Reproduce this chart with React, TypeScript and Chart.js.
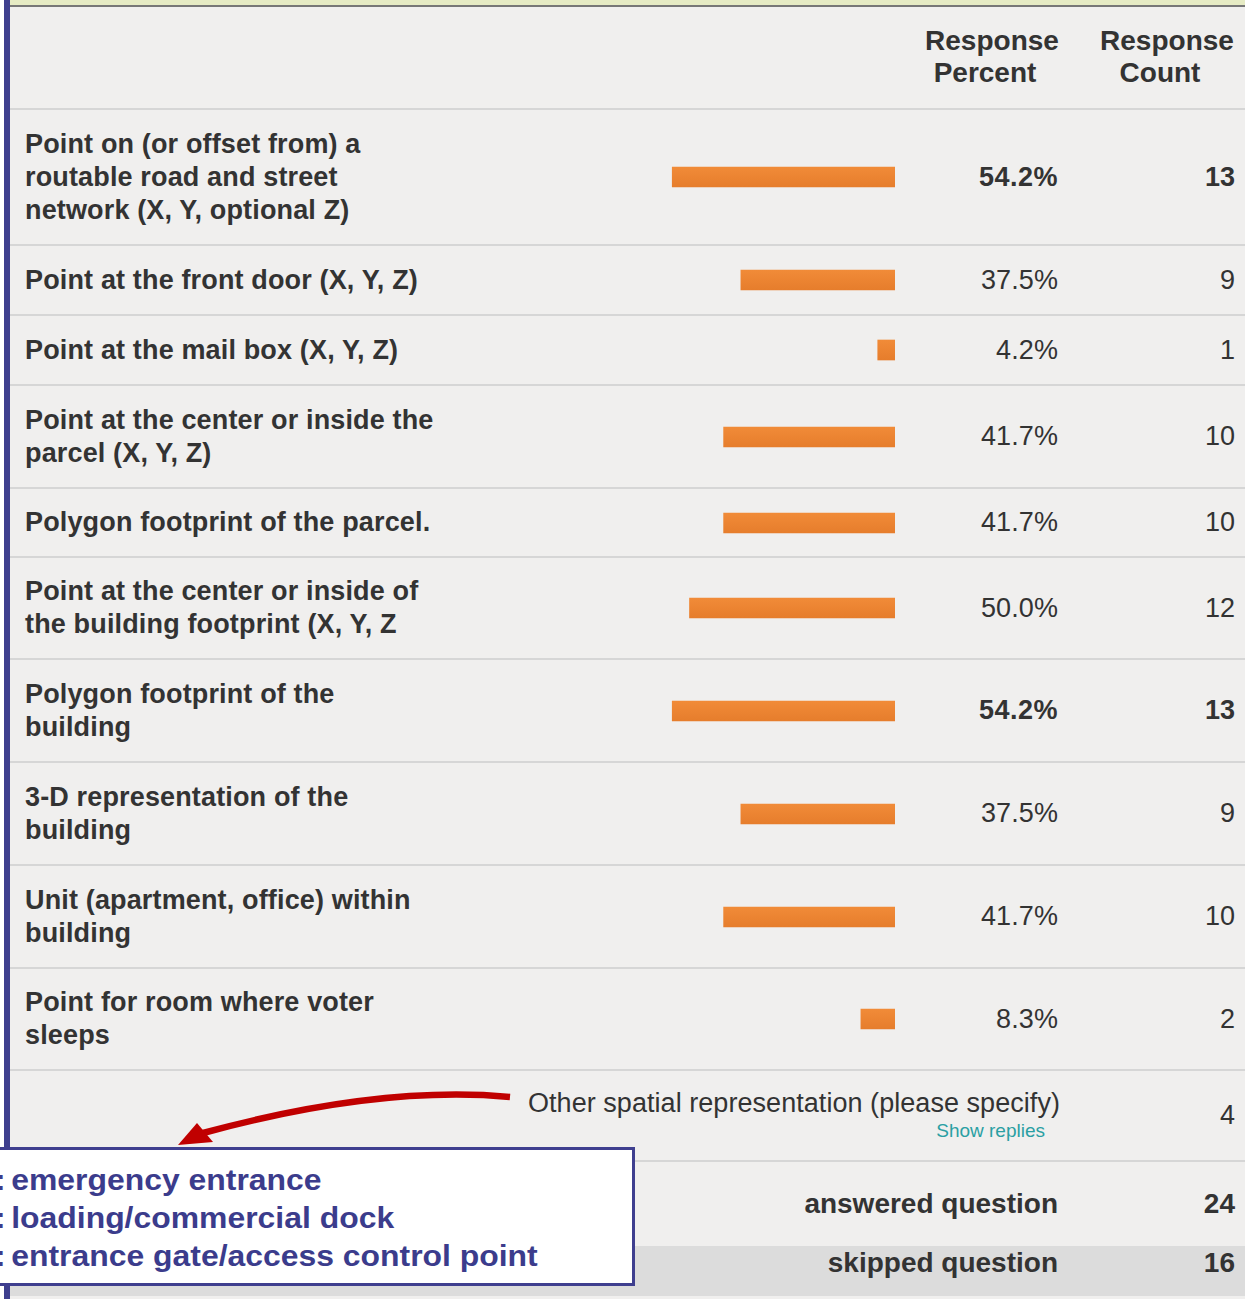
import React, { useEffect, useRef } from "react";
import { Chart, registerables } from "chart.js";

Chart.register(...registerables);

// ---------- data ----------
const categories: string[] = [
  "Point on (or offset from) a\nroutable road and street\nnetwork (X, Y, optional Z)",
  "Point at the front door (X, Y, Z)",
  "Point at the mail box (X, Y, Z)",
  "Point at the center or inside the\nparcel (X, Y, Z)",
  "Polygon footprint of the parcel.",
  "Point at the center or inside of\nthe building footprint (X, Y, Z",
  "Polygon footprint of the\nbuilding",
  "3-D representation of the\nbuilding",
  "Unit (apartment, office) within\nbuilding",
  "Point for room where voter\nsleeps",
];
const responsePercent: number[] = [54.2, 37.5, 4.2, 41.7, 41.7, 50.0, 54.2, 37.5, 41.7, 8.3];
const responseCount: number[] = [13, 9, 1, 10, 10, 12, 13, 9, 10, 2];
const headerLabels: string[][] = [["Response", "Percent"], ["Response", "Count"]];
const otherLabel = "Other spatial representation (please specify)";
const otherLinkLabel = "Show replies";
const otherCount = 4;
const summaryLabels: string[] = ["answered question", "skipped question"];
const summaryValues: number[] = [24, 16];
const calloutLines: string[] = ["emergency entrance", "loading/commercial dock", "entrance gate/access control point"];

// ---------- layout (not data) ----------
const rowHeights: number[] = [136, 70, 70, 103, 69, 102, 103, 103, 103, 102];
const headerCenters: number[][] = [[992, 985], [1167, 1160]];
const FONT = '"Liberation Sans", Arial, Helvetica, sans-serif';
const TEXT = "#333333";
const SEP = "#d6d6d6";
const BAR_W = 411;
const BAR_RIGHT = 895;

function BarCell({ value }: { value: number }) {
  const ref = useRef<HTMLCanvasElement>(null);
  useEffect(() => {
    if (!ref.current) return;
    const chart = new Chart(ref.current, {
      type: "bar",
      data: {
        labels: [""],
        datasets: [
          {
            data: [value],
            backgroundColor: (ctx: any) => {
              const area = ctx.chart.chartArea;
              if (!area) return "#ee8533";
              const mid = (area.top + area.bottom) / 2;
              const g = ctx.chart.ctx.createLinearGradient(0, mid - 10, 0, mid + 10);
              g.addColorStop(0, "#f18b38");
              g.addColorStop(1, "#e67d2c");
              return g;
            },
            borderWidth: 0,
            barThickness: 20,
          },
        ],
      },
      options: {
        indexAxis: "y",
        animation: false,
        responsive: false,
        maintainAspectRatio: false,
        layout: { padding: 0 },
        plugins: { legend: { display: false }, tooltip: { enabled: false } },
        scales: {
          x: { min: 0, max: 100, reverse: true, display: false },
          y: { display: false },
        },
      },
    });
    return () => chart.destroy();
  }, [value]);
  return (
    <canvas
      ref={ref}
      width={BAR_W}
      height={40}
      style={{
        position: "absolute",
        left: BAR_RIGHT - BAR_W,
        top: "50%",
        marginTop: -20,
        width: BAR_W,
        height: 40,
      }}
    />
  );
}

export default function App() {
  const maxPct = Math.max(...responsePercent);
  let y = 108;
  const rows = categories.map((label, i) => {
    const top = y;
    const h = rowHeights[i];
    y += h;
    const bold = responsePercent[i] === maxPct;
    return (
      <div
        key={i}
        style={{
          position: "absolute",
          left: 0,
          top,
          width: 1245,
          height: h,
          borderTop: `2px solid ${SEP}`,
          boxSizing: "border-box",
        }}
      >
        <div
          style={{
            position: "absolute",
            left: 25,
            top: 0,
            bottom: 0,
            display: "flex",
            alignItems: "center",
            whiteSpace: "pre-line",
            fontWeight: "bold",
            fontSize: 27,
            letterSpacing: "0.15px",
            lineHeight: "33px",
            color: TEXT,
          }}
        >
          {label}
        </div>
        <BarCell value={responsePercent[i]} />
        <div
          style={{
            position: "absolute",
            right: 1245 - 1058,
            top: 0,
            bottom: 0,
            display: "flex",
            alignItems: "center",
            fontSize: 27,
            letterSpacing: bold ? "0.5px" : "0.1px",
            fontWeight: bold ? "bold" : "normal",
            color: TEXT,
          }}
        >
          {responsePercent[i].toFixed(1)}%
        </div>
        <div
          style={{
            position: "absolute",
            right: 1245 - 1235,
            top: 0,
            bottom: 0,
            display: "flex",
            alignItems: "center",
            fontSize: 27,
            fontWeight: bold ? "bold" : "normal",
            color: TEXT,
          }}
        >
          {responseCount[i]}
        </div>
      </div>
    );
  });
  const otherTop = y;

  return (
    <div
      style={{
        position: "absolute",
        left: 0,
        top: 0,
        width: 1245,
        height: 1299,
        overflow: "hidden",
        background: "#f0efee",
        fontFamily: FONT,
        color: TEXT,
      }}
    >
      {/* top band */}
      <div style={{ position: "absolute", left: 0, top: 0, width: 1245, height: 5, background: "#e6ebc4" }} />
      <div style={{ position: "absolute", left: 0, top: 5, width: 1245, height: 2, background: "#777777" }} />

      {/* header */}
      {headerLabels.map((lines, i) =>
        lines.map((t, j) => (
          <div
            key={`${i}-${j}`}
            style={{
              position: "absolute",
              top: 25 + j * 32,
              left: headerCenters[i][j] - 100,
              width: 200,
              textAlign: "center",
              fontWeight: "bold",
              fontSize: 28,
              lineHeight: "32px",
            }}
          >
            {t}
          </div>
        ))
      )}

      {rows}

      {/* other row */}
      <div
        style={{
          position: "absolute",
          left: 0,
          top: otherTop,
          width: 1245,
          height: 1160 - otherTop,
          borderTop: `2px solid ${SEP}`,
          boxSizing: "border-box",
        }}
      />
      <div
        style={{
          position: "absolute",
          right: 1245 - 1060,
          top: 1103 - 17,
          fontSize: 27,
          letterSpacing: "0.05px",
          lineHeight: "34px",
          whiteSpace: "nowrap",
        }}
      >
        {otherLabel}
      </div>
      <div
        style={{
          position: "absolute",
          right: 1245 - 1045,
          top: 1131 - 11,
          fontSize: 19,
          lineHeight: "22px",
          color: "#2a9fa3",
          whiteSpace: "nowrap",
        }}
      >
        {otherLinkLabel}
      </div>
      <div style={{ position: "absolute", right: 1245 - 1235, top: 1115 - 17, fontSize: 27, lineHeight: "34px" }}>{otherCount}</div>

      {/* summary rows */}
      <div style={{ position: "absolute", left: 0, top: 1160, width: 1245, height: 2, background: SEP }} />
      <div style={{ position: "absolute", left: 0, top: 1246, width: 1245, height: 50, background: "#dcdcdc" }} />
      {summaryLabels.map((t, i) => (
        <React.Fragment key={i}>
          <div
            style={{
              position: "absolute",
              right: 1245 - 1058,
              top: (i === 0 ? 1204 : 1263) - 17,
              fontSize: 28,
              lineHeight: "34px",
              fontWeight: "bold",
              whiteSpace: "nowrap",
            }}
          >
            {t}
          </div>
          <div
            style={{
              position: "absolute",
              right: 1245 - 1235,
              top: (i === 0 ? 1204 : 1263) - 17,
              fontSize: 28,
              lineHeight: "34px",
              fontWeight: "bold",
            }}
          >
            {summaryValues[i]}
          </div>
        </React.Fragment>
      ))}

      {/* left border */}
      <div style={{ position: "absolute", left: 0, top: 0, width: 4, height: 1299, background: "#ffffff" }} />
      <div style={{ position: "absolute", left: 4, top: 0, width: 6, height: 1299, background: "#3e3f8e" }} />

      {/* callout box */}
      <div
        style={{
          position: "absolute",
          left: -10,
          top: 1147,
          width: 645,
          height: 139,
          boxSizing: "border-box",
          border: "3px solid #3f3f8f",
          background: "#ffffff",
        }}
      />
      {calloutLines.map((t, i) => (
        <div
          key={i}
          style={{
            position: "absolute",
            left: -5,
            top: 1180 + i * 38 - 17,
            fontSize: 29,
            lineHeight: "34px",
            fontWeight: "bold",
            color: "#3b3c8c",
            whiteSpace: "nowrap",
            transform: "scaleX(1.1)",
            transformOrigin: "left center",
          }}
        >
          <span style={{ marginRight: -3 }}>:</span> {t}
        </div>
      ))}

      {/* red arrow */}
      <svg width={1245} height={1299} style={{ position: "absolute", left: 0, top: 0, pointerEvents: "none" }}>
        <path d="M 510 1097 Q 380 1085 203 1133" fill="none" stroke="#c00000" strokeWidth={6.5} strokeLinecap="butt" />
        <polygon points="178,1145 197,1123 213,1142" fill="#c00000" />
      </svg>
    </div>
  );
}
